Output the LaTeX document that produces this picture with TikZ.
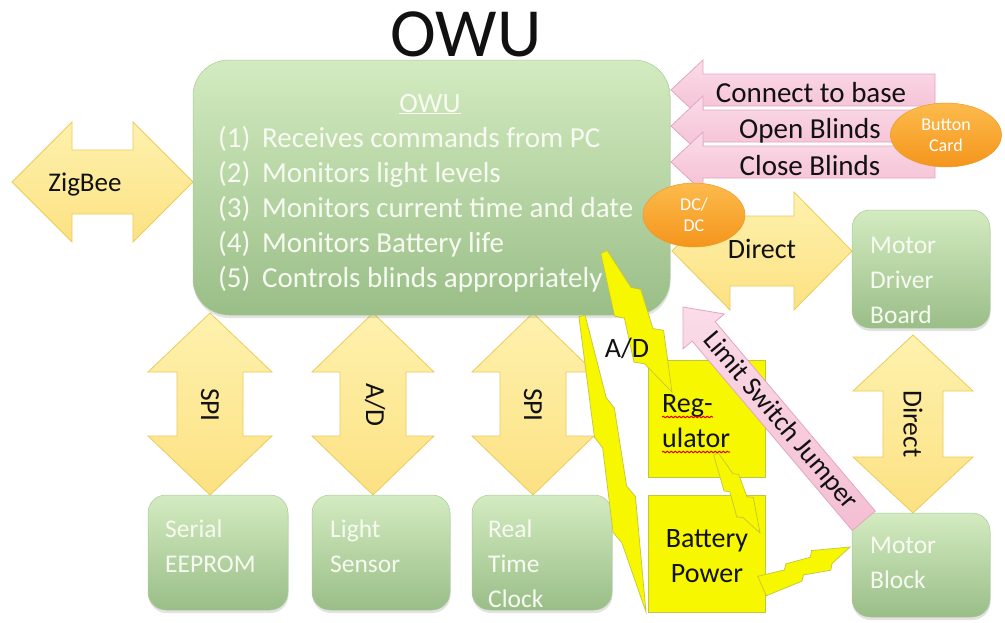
\documentclass[tikz,border=0pt]{standalone}
\usepackage{fontspec}
\setmainfont{Carlito}
\usetikzlibrary{shapes.geometric,shadows,decorations.pathmorphing}

\definecolor{gtop}{HTML}{D3EBC0}
\definecolor{gbot}{HTML}{9ABE88}
\definecolor{gline}{HTML}{A9C99A}
\definecolor{gtext}{HTML}{F7FBF2}
\definecolor{ytop}{HTML}{FEF2AE}
\definecolor{ybot}{HTML}{FCE182}
\definecolor{yline}{HTML}{EBCB5C}
\definecolor{ptop}{HTML}{FBDCE8}
\definecolor{pbot}{HTML}{F4BED3}
\definecolor{pline}{HTML}{E3A6C0}
\definecolor{otop}{HTML}{FDBB4C}
\definecolor{obot}{HTML}{F4951C}
\definecolor{oline}{HTML}{EE9A2A}
\definecolor{zapyellow}{HTML}{F7F700}
\definecolor{zapline}{HTML}{C4C440}
\definecolor{ink}{HTML}{111111}

% horizontal double block arrow: x1, x2, centre y, head half-width, body half-width, head length
\newcommand\hdouble[7][]{%
  \path[#1] (#2,#4) -- ({#2+#7},{#4-#5}) -- ({#2+#7},{#4-#6}) -- ({#3-#7},{#4-#6})
    -- ({#3-#7},{#4-#5}) -- (#3,#4) -- ({#3-#7},{#4+#5}) -- ({#3-#7},{#4+#6})
    -- ({#2+#7},{#4+#6}) -- ({#2+#7},{#4+#5}) -- cycle;}
% vertical double block arrow: y1, y2, centre x, head half-width, body half-width, head length
\newcommand\vdouble[7][]{%
  \path[#1] (#4,#2) -- ({#4+#5},{#2+#7}) -- ({#4+#6},{#2+#7}) -- ({#4+#6},{#3-#7})
    -- ({#4+#5},{#3-#7}) -- (#4,#3) -- ({#4-#5},{#3-#7}) -- ({#4-#6},{#3-#7})
    -- ({#4-#6},{#2+#7}) -- ({#4-#5},{#2+#7}) -- cycle;}
% left-pointing block arrow: tip x, tail x, centre y, head half-width, body half-width, head length
\newcommand\lsingle[7][]{%
  \path[#1] (#2,#4) -- ({#2+#7},{#4-#5}) -- ({#2+#7},{#4-#6}) -- (#3,{#4-#6})
    -- (#3,{#4+#6}) -- ({#2+#7},{#4+#6}) -- ({#2+#7},{#4+#5}) -- cycle;}
% lightning bolt from (ax,ay) to (bx,by): width w, start half-width factor a0
\newcommand\zap[7][]{%
  \pgfmathsetmacro\zL{veclen(#4-#2,#5-#3)}%
  \pgfmathsetmacro\zA{atan2(#5-#3,#4-#2)}%
  \begin{scope}[shift={(#2,#3)},rotate={-1*(\zA)}]
    \path[zapstyle,#1] (0,{#7*#6}) -- ({0.40*\zL},{0.42*#6}) -- ({0.44*\zL},{0.24*#6})
      -- ({0.72*\zL},{0.48*#6}) -- ({0.76*\zL},{0.28*#6}) -- (\zL,0)
      -- ({0.62*\zL},{-0.44*#6}) -- ({0.58*\zL},{-0.24*#6})
      -- ({0.32*\zL},{-0.38*#6}) -- ({0.28*\zL},{-0.20*#6}) -- (0,{-#7*#6}) -- cycle;
  \end{scope}}

\begin{document}
\begin{tikzpicture}[x=1pt,y=-1pt,
  greenbox/.style={draw=gline, line width=0.5pt, top color=gtop, bottom color=gbot,
    inner sep=0pt, drop shadow={opacity=0.22, shadow xshift=0.5pt, shadow yshift=-3pt}},
  yarrow/.style={draw=yline, line width=0.8pt, top color=ytop, bottom color=ybot, line join=miter},
  parrow/.style={draw=pline, line width=0.8pt, top color=ptop, bottom color=pbot, line join=miter},
  orangeball/.style={ellipse, draw=oline, line width=0.5pt, top color=otop, bottom color=obot,
    inner sep=0pt, text=white, align=center, font=\fontsize{18}{21}\selectfont},
  yellowbox/.style={draw=zapline, line width=0.8pt, fill=zapyellow, inner sep=0pt},
  zapstyle/.style={draw=zapline, line width=0.7pt, fill=zapyellow, line join=miter},
  boxtxt/.style={text=gtext, inner sep=0pt, anchor=base west, font=\fontsize{25.5}{30}\selectfont},
  listtxt/.style={text=gtext, inner sep=0pt, anchor=base west, font=\fontsize{29}{30}\selectfont},
  lbl/.style={text=ink, inner sep=0pt, anchor=base, font=\fontsize{28}{30}\selectfont},
  plbl/.style={lbl, font=\fontsize{29}{30}\selectfont},
  vlbl/.style={text=ink, inner sep=0pt, anchor=center, rotate=-90, font=\fontsize{27.5}{30}\selectfont}]

\useasboundingbox (0,0) rectangle (1005,622);
\fill[white] (0,0) rectangle (1005,622);

% title
\node[text=ink, inner sep=0pt, anchor=base, font=\fontsize{69}{72}\selectfont] (title) at (466,56) {OWU};

% yellow interface arrows
\hdouble[yarrow]{12}{193}{182}{60}{32}{60}
\hdouble[yarrow]{672}{852}{251}{59}{35}{58}
\vdouble[yarrow]{313}{495}{210}{62}{33}{59}
\vdouble[yarrow]{313}{495}{373}{61}{33}{59}
\vdouble[yarrow]{313}{495}{533}{61}{33}{59}
\vdouble[yarrow]{335}{513}{913}{60}{30}{56}

% green blocks
\node[greenbox, rounded corners=36pt, minimum width=477pt, minimum height=255pt] (owu) at (431.5,187.5) {};
\node[greenbox, rounded corners=18pt, minimum width=138pt, minimum height=118pt] (mdb) at (921,269) {};
\node[greenbox, rounded corners=18pt, minimum width=138pt, minimum height=104pt] (mblock) at (921,565) {};
\node[greenbox, rounded corners=18pt, minimum width=140pt, minimum height=115pt] (eeprom) at (218,552.5) {};
\node[greenbox, rounded corners=18pt, minimum width=138pt, minimum height=115pt] (light) at (381,552.5) {};
\node[greenbox, rounded corners=18pt, minimum width=140pt, minimum height=115pt] (rtc) at (542,552.5) {};

% button commands
\lsingle[parrow]{671}{935}{90}{30}{16}{32}
\lsingle[parrow]{671}{935}{126}{30}{16}{32}
\lsingle[parrow]{671}{935}{162}{30}{16}{32}
\node[orangeball, minimum width=111pt, minimum height=64pt] (button) at (946,135) {Button\\Card};

% power path
\node[yellowbox, minimum width=117pt, minimum height=117pt] (reg) at (706.5,418.5) {};
\node[yellowbox, minimum width=117pt, minimum height=117pt] (batt) at (706.5,553.5) {};

\zap{604}{252}{672}{392}{44}{0.08}
\zap{582}{316}{646}{612}{32}{0.1}
\zap{716}{454}{760}{533}{26}{0.1}
\zap{762}{586}{850}{547}{28}{0.38}

% limit switch jumper
\path[parrow] (683,307) -- (724.3,314.0) -- (715.2,321.7) -- (875.3,511.1)
  -- (852.3,530.5) -- (692.2,341.1) -- (683.1,348.8) -- cycle;

\node[orangeball, minimum width=102pt, minimum height=64pt] (dcdc) at (694,215) {DC/\\DC};

% OWU block text
\node[text=gtext, inner sep=0pt, anchor=base, font=\fontsize{28}{30}\selectfont] (owuhead) at (430,112) {\underline{OWU}};
\node[listtxt] (l1) at (218,147) {\makebox[44pt][l]{(1)}Receives commands from PC};
\node[listtxt] (l2) at (218,182) {\makebox[44pt][l]{(2)}Monitors light levels};
\node[listtxt] (l3) at (218,217) {\makebox[44pt][l]{(3)}Monitors current time and date};
\node[listtxt] (l4) at (218,252) {\makebox[44pt][l]{(4)}Monitors Battery life};
\node[listtxt] (l5) at (218,287) {\makebox[44pt][l]{(5)}Controls blinds appropriately};

% block labels
\node[boxtxt] (mdb1) at (870,253) {Motor};
\node[boxtxt] (mdb2) at (870,288) {Driver};
\node[boxtxt] (mdb3) at (870,323) {Board};
\node[boxtxt] (mb1) at (870,553) {Motor};
\node[boxtxt] (mb2) at (870,588) {Block};
\node[boxtxt] (ee1) at (165,537) {Serial};
\node[boxtxt] (ee2) at (165,572) {EEPROM};
\node[boxtxt] (ls1) at (330,537) {Light};
\node[boxtxt] (ls2) at (330,572) {Sensor};
\node[boxtxt] (rt1) at (488,537) {Real};
\node[boxtxt] (rt2) at (488,572) {Time};
\node[boxtxt] (rt3) at (488,607) {Clock};

% arrow labels
\node[lbl, font=\fontsize{27}{30}\selectfont] (zigbee) at (85,191) {ZigBee};
\node[lbl] (direct) at (762,258) {Direct};
\node[plbl] (cb) at (811,102) {Connect to base};
\node[plbl] (ob) at (810,138) {Open Blinds};
\node[plbl] (clb) at (810,175) {Close Blinds};
\node[vlbl] (spi1) at (210,405) {SPI};
\node[vlbl] (ad1) at (375,405) {A/D};
\node[vlbl] (spi2) at (533,405) {SPI};
\node[vlbl] (direct2) at (913,424) {Direct};
\node[lbl] (ad2) at (627,357) {A/D};
\node[text=ink, inner sep=0pt, anchor=center, rotate=-49.8, font=\fontsize{27.5}{30}\selectfont] (limit) at (780,421) {Limit Switch Jumper};

% power labels
\node[lbl, anchor=base west] (reg1) at (662,412) {Reg-};
\node[lbl, anchor=base west] (reg2) at (662,447) {ulator};
\draw[red!85!black, line width=1pt, decorate, decoration={snake, amplitude=0.7pt, segment length=4pt}]
  (reg1.base west) ++(0,5) -- ++(51,0);
\draw[red!85!black, line width=1pt, decorate, decoration={snake, amplitude=0.7pt, segment length=4pt}]
  (reg2.base west) ++(0,5) -- ++(68,0);
\node[lbl] (bat1) at (707,547) {Battery};
\node[lbl] (bat2) at (707,582) {Power};

\end{tikzpicture}
\end{document}
